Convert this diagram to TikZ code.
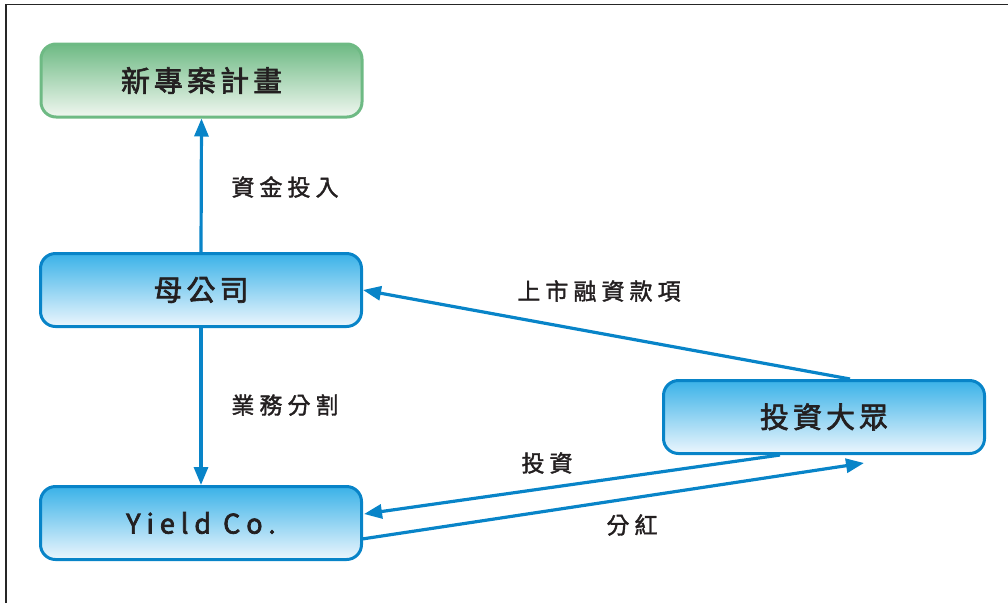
\documentclass[tikz,border=0pt]{standalone}
\usepackage{fontspec}
\usetikzlibrary{arrows.meta,calc}
\newfontfamily\cjkbox[LetterSpace=14,FakeBold=2.2]{Noto Sans CJK TC}
\newfontfamily\latbox[LetterSpace=22,FakeBold=2.6]{Noto Sans CJK TC}
\newfontfamily\cjklab[LetterSpace=22,FakeBold=1.6]{Noto Sans CJK TC}
\definecolor{bluebd}{RGB}{8,132,200}
\definecolor{bluetop}{RGB}{58,178,232}
\definecolor{bluebot}{RGB}{236,246,253}
\definecolor{greenbd}{RGB}{110,186,132}
\definecolor{greentop}{RGB}{110,186,132}
\definecolor{greenbot}{RGB}{240,247,240}
\definecolor{txt}{RGB}{35,31,32}
\tikzset{
  box/.style={rounded corners=15pt, minimum width=321pt, minimum height=73pt,
    line width=3pt, text=txt, font=\cjkbox\fontsize{29}{32}\selectfont, inner sep=0pt},
  bluebox/.style={box, draw=bluebd, top color=bluetop, bottom color=bluebot},
  greenbox/.style={box, draw=greenbd, top color=greentop, bottom color=greenbot},
  conn/.style={draw=bluebd, line width=3.2pt, -{Triangle[length=18pt,width=14pt]}},
  lab/.style={text=txt, font=\cjklab\fontsize{23}{26}\selectfont, inner sep=0pt},
}
\begin{document}
\begin{tikzpicture}[x=1pt,y=-1pt]
\useasboundingbox (0,0) rectangle (1008,603);
\draw[line width=1.2pt, black!85] (6,603) -- (6,4.5) -- (1008,4.5);
\node[greenbox] (proj) at (201.5,80.5) {新專案計畫};
\node[bluebox] (mom) at (201,290) {母公司};
\node[bluebox, font=\latbox\fontsize{27}{30}\selectfont] (yield) at (201,523) {Yield Co.};
\node[bluebox] (pub) at (824,417) {投資大眾};
\coordinate (pubtop) at (850,379);
\coordinate (pubbot) at (780,455);
\coordinate (pubtip) at (864,463);
\coordinate (yin) at (364,514);
\coordinate (yout) at (362,539);
\draw[conn] (mom.north) -- (proj.south);
\draw[conn] (mom.south) -- (yield.north);
\draw[conn] (pubtop) -- (mom.east);
\draw[conn] (pubbot) -- (yin);
\draw[conn] (yout) -- (pubtip);
\node[lab] (l1) at (285,187) {資金投入};
\node[lab] (l2) at (285,405) {業務分割};
\node[lab] (l3) at (599,291) {上市融資款項};
\node[lab] (l4) at (547,463) {投資};
\node[lab] (l5) at (632,525) {分紅};
\end{tikzpicture}
\end{document}
